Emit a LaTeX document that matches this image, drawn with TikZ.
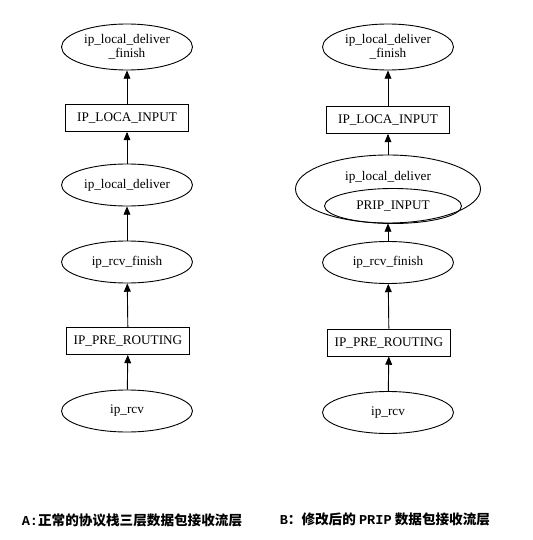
\documentclass[tikz,border=0pt]{standalone}
\usepackage{fontspec}
\setmainfont{Liberation Serif}
\newfontfamily\cjk{Noto Sans CJK SC}
\newfontfamily\mono{Liberation Mono}
\usepackage{tikz}
\usetikzlibrary{shapes.geometric, arrows}

\begin{document}
\begin{tikzpicture}[x=1pt, y=1pt, node distance=70pt, line width=0.9pt, font=\fontsize{13.2}{14}\selectfont]
	\tikzstyle{func} = [ellipse, draw=black, minimum width=131pt, minimum height=42pt, inner sep=0pt, align=center]
	
	\tikzstyle{hook} = [rectangle, draw=black, minimum width=123pt, minimum height=27pt, inner sep=0pt]
	
	\tikzstyle{caption} = [anchor=west, font=\fontsize{13.6}{15}\selectfont\cjk\bfseries]
	
	\tikzstyle{arrow} = [->,>= triangle 45]
	
	\useasboundingbox (0,0) rectangle (532,-540);
	
	% Column A: normal stack
	\node (rcvA) [func] at (127,-411) {ip\_rcv};
	\node (preA) [hook, above of = rcvA, xshift=1pt] {IP\_PRE\_ROUTING};
	\node (finA) [func, above of = preA, yshift=9pt, xshift=-1pt] {ip\_rcv\_finish};
	\node (delA) [func, above of = finA, yshift=7pt] {ip\_local\_deliver};
	\node (locA) [hook, above of = delA, yshift=-3pt] {IP\_LOCA\_INPUT};
	\node (finishA) [func, above of = locA, yshift=1pt, minimum height=46pt] {ip\_local\_deliver\\\_finish};
	
	% Column B: with PRIP
	\node (rcvB) [func] at (388,-412.5) {ip\_rcv};
	\node (preB) [hook, above of = rcvB, xshift=1pt] {IP\_PRE\_ROUTING};
	\node (finB) [func, above of = preB, yshift=10pt, xshift=-1pt] {ip\_rcv\_finish};
	\node (delB) [func, above of = finB, yshift=3.5pt, minimum width=185pt, minimum height=68pt] {};
	\node (delBtext) [above of = delB, node distance=12pt] {ip\_local\_deliver};
	\node (prip) [func, below of = delB, node distance=17pt, xshift=5pt, minimum width=137pt, minimum height=35pt] {PRIP\_INPUT};
	\node (locB) [hook, above of = delB, yshift=-1pt] {IP\_LOCA\_INPUT};
	\node (finishB) [func, above of = locB, yshift=3pt, minimum height=46pt] {ip\_local\_deliver\\\_finish};
	
	% Captions
	\node (capA) [caption] at (18,-520) {{\mono A:}正常的协议栈三层数据包接收流层};
	\node (capB) [caption] at (276,-519) {{\mono B}：修改后的 {\mono PRIP} 数据包接收流层};
	
	% Arrows
	\draw [arrow] (rcvA) -- (preA);
	\draw [arrow] (preA) -- (finA);
	\draw [arrow] (finA) -- (delA);
	\draw [arrow] (delA) -- (locA);
	\draw [arrow] (locA) -- (finishA);
	
	\draw [arrow] (rcvB) -- (preB);
	\draw [arrow] (preB) -- (finB);
	\draw [arrow] (finB.north) -- (delB.south -| finB.north);
	\draw [arrow] (delB) -- (locB);
	\draw [arrow] (locB) -- (finishB);
\end{tikzpicture}
\end{document}
